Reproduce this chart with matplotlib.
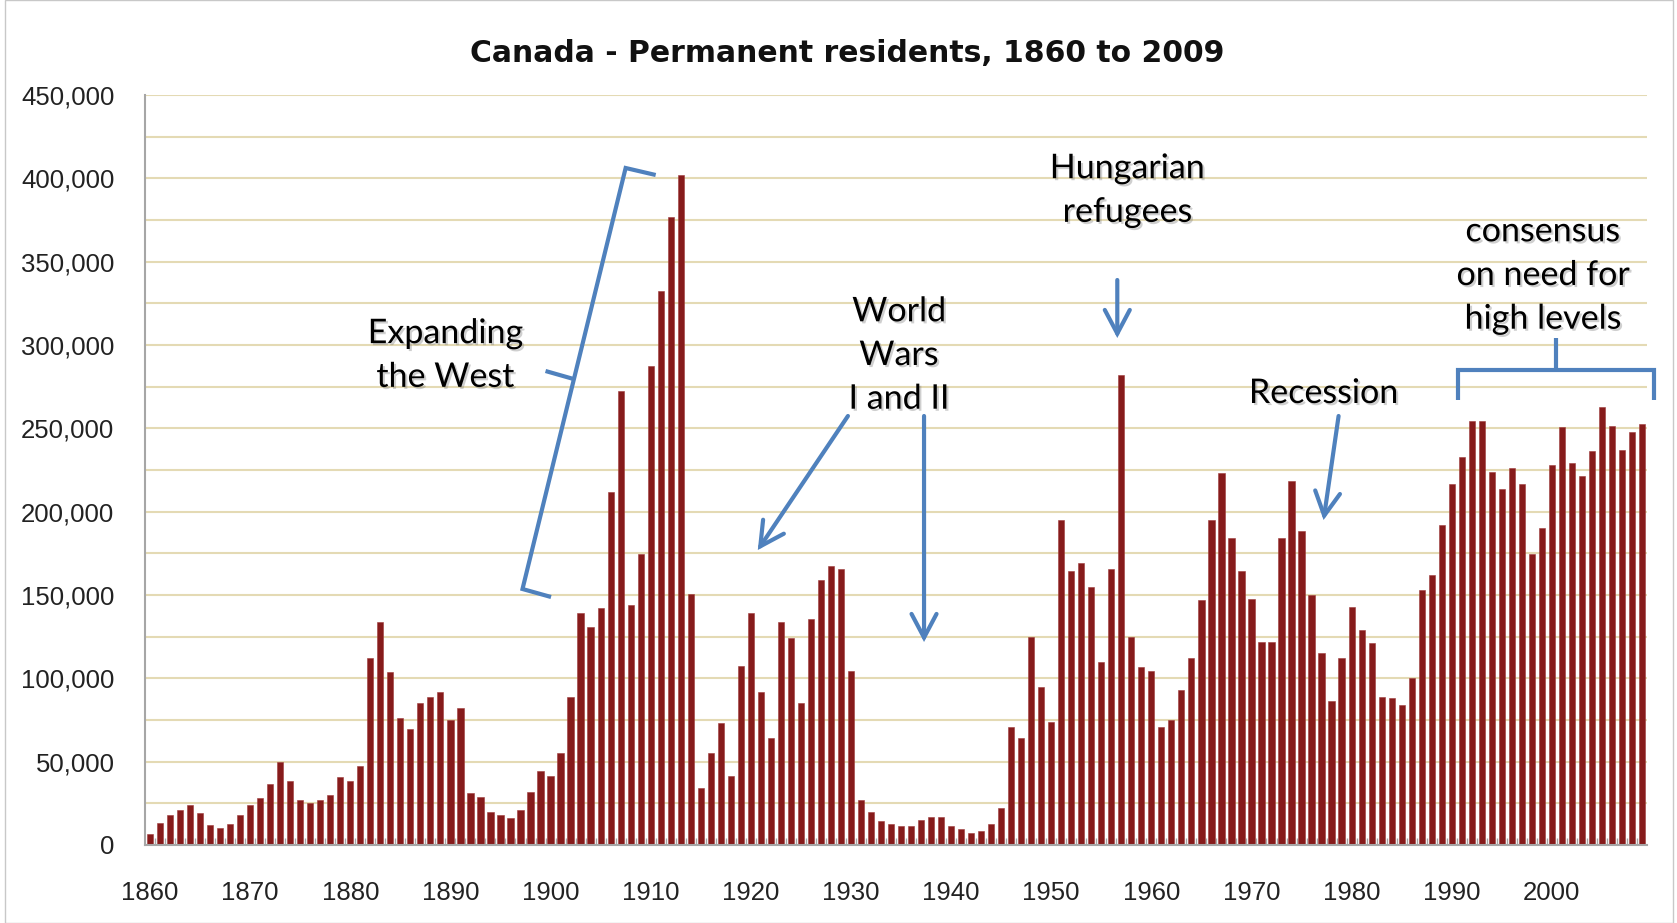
import matplotlib
matplotlib.use("Agg")
import matplotlib.pyplot as plt
import matplotlib.patheffects as pe
from matplotlib.patches import FancyArrowPatch, Rectangle
from matplotlib.ticker import MultipleLocator, FuncFormatter

# ---------------- data ----------------
years = list(range(1860, 2010))
residents = [
    # 1860s
    6400, 13300, 18300, 21300, 24300, 19200, 11800, 10300, 12400, 18300,
    # 1870s
    24300, 28200, 36900, 49700, 38700, 27300, 25200, 27300, 30300, 40700,
    # 1880s
    38700, 47700, 112500, 134100, 103600, 76100, 69500, 85000, 88900, 91900,
    # 1890s
    75200, 82000, 31200, 29100, 20100, 18300, 16300, 21300, 32100, 44700,
    # 1900s
    41700, 55400, 88900, 139200, 131100, 142100, 211800, 272500, 144200, 174400,
    # 1910s
    287500, 332600, 376600, 402000, 150800, 34200, 55400, 73400, 41700, 107500,
    # 1920s
    139200, 91900, 64100, 134100, 124500, 85000, 135900, 158900, 167300, 165500,
    # 1930s
    104500, 27300, 20100, 14200, 12400, 11200, 11200, 14800, 17100, 17100,
    # 1940s
    11200, 9400, 7300, 8200, 12400, 22200, 71000, 64100, 124800, 94900,
    # 1950s
    74000, 194800, 164300, 169400, 154700, 109600, 165500, 282100, 124800, 106600,
    # 1960s
    104500, 71000, 75200, 93100, 112500, 146900, 194800, 223500, 184000, 164300,
    # 1970s
    147800, 122100, 122100, 184000, 218700, 188200, 149900, 115500, 86200, 112500,
    # 1980s
    143000, 129000, 121500, 88900, 88000, 84100, 100000, 152900, 161900, 191800,
    # 1990s
    216600, 233100, 254600, 254600, 224100, 213600, 226200, 216600, 174400, 190000,
    # 2000s
    228300, 250700, 229200, 221400, 236300, 262700, 251600, 237200, 247700, 252800,
]
decade_labels = list(range(1860, 2010, 10))
title = "Canada - Permanent residents, 1860 to 2009"

# ---------------- style ----------------
BAR = "#861B1B"
BLUE = "#4F81BD"
GRID = "#E4DAB4"
AXIS = "#A6A6A6"
TICKFONT = ["Liberation Sans", "DejaVu Sans"]
NOTEFONT = ["Lato", "Open Sans", "DejaVu Sans"]

W, H = 1677, 923
fig = plt.figure(figsize=(W / 100, H / 100), dpi=100)
fig.patch.set_facecolor("white")

# outer chart border
fig.add_artist(Rectangle((5 / W, 0), (1673 - 5) / W, (H - 9) / H + 0.01,
                         transform=fig.transFigure, fill=False,
                         edgecolor="#C8C8C8", linewidth=1.0))

left, right = 145 / W, 1647 / W
bottom, top = (H - 845) / H, (H - 95) / H
ax = fig.add_axes([left, bottom, right - left, top - bottom])

ax.bar(years, residents, width=0.62, color=BAR, edgecolor="#9E3A3A",
       linewidth=0.4, zorder=3)

ax.set_xlim(1859.5, 2009.5)
ax.set_ylim(0, 450000)

ax.yaxis.set_major_locator(MultipleLocator(50000))
ax.yaxis.set_minor_locator(MultipleLocator(25000))
ax.yaxis.set_major_formatter(FuncFormatter(lambda v, p: f"{int(v):,}"))
ax.grid(True, axis="y", which="both", color=GRID, linewidth=1.5, zorder=0)
ax.set_axisbelow(True)

ax.set_xticks(decade_labels)
ax.set_xticklabels([str(d) for d in decade_labels])
ax.set_xticks([y + 0.5 for y in years[:-1]], minor=True)

ax.tick_params(axis="x", which="major", length=0, pad=26, labelsize=18.5,
               labelcolor="#222222")
ax.tick_params(axis="x", which="minor", length=5, direction="in",
               color=AXIS, width=1)
ax.tick_params(axis="y", which="both", length=0, pad=22, labelsize=18.5,
               labelcolor="#222222")
for lab in ax.get_xticklabels() + ax.get_yticklabels():
    lab.set_family(TICKFONT)

for s in ("top", "right"):
    ax.spines[s].set_visible(False)
for s in ("left", "bottom"):
    ax.spines[s].set_color(AXIS)
    ax.spines[s].set_linewidth(1.5)
    ax.spines[s].set_zorder(4)

fig.text(847 / W, 1 - 53 / H, title, ha="center", va="center",
         fontsize=21.5, fontweight="bold", family="DejaVu Sans",
         color="#111111")

# ---------------- annotations ----------------
shadow = [pe.SimplePatchShadow(offset=(1.5, -1.5), shadow_rgbFace="#777777",
                               alpha=0.35), pe.Normal()]


def note(x, y, s):
    ax.text(x, y, s, ha="center", va="center", fontsize=24.5, family=NOTEFONT,
            color="black", linespacing=1.45, path_effects=shadow, zorder=6,
            clip_on=False)


def arrow(p0, p1):
    a = FancyArrowPatch(p0, p1, arrowstyle="->,head_length=0.85,head_width=0.45",
                        mutation_scale=20, color=BLUE, linewidth=3.0,
                        shrinkA=0, shrinkB=0, zorder=5, clip_on=False,
                        capstyle="round", joinstyle="miter")
    ax.add_patch(a)


def polyline(xs, ys):
    ax.plot(xs, ys, color=BLUE, linewidth=3.0, solid_capstyle="butt",
            solid_joinstyle="miter", zorder=5, clip_on=False)


note(1889.5, 294000, "Expanding\nthe West")
polyline([1900.05, 1897.2, 1907.5, 1910.5], [148800, 153600, 406200, 402000])
polyline([1902.3, 1899.5], [279600, 284400])

note(1934.8, 294000, "World\nWars\nI and II")
arrow((1929.7, 257400), (1920.7, 177000))
arrow((1937.3, 257400), (1937.3, 121800))

note(1957.6, 393000, "Hungarian\nrefugees")
arrow((1956.6, 339000), (1956.6, 304200))

note(1977.2, 271200, "Recession")
arrow((1978.7, 257400), (1977.2, 195000))

note(1999.1, 342000, "consensus\non need for\nhigh levels")
polyline([1990.6, 1990.6, 2010.2, 2010.2], [267000, 285000, 285000, 267000])
polyline([2000.4, 2000.4], [285000, 304200])

fig.savefig("out.png", dpi=100, facecolor="white")
